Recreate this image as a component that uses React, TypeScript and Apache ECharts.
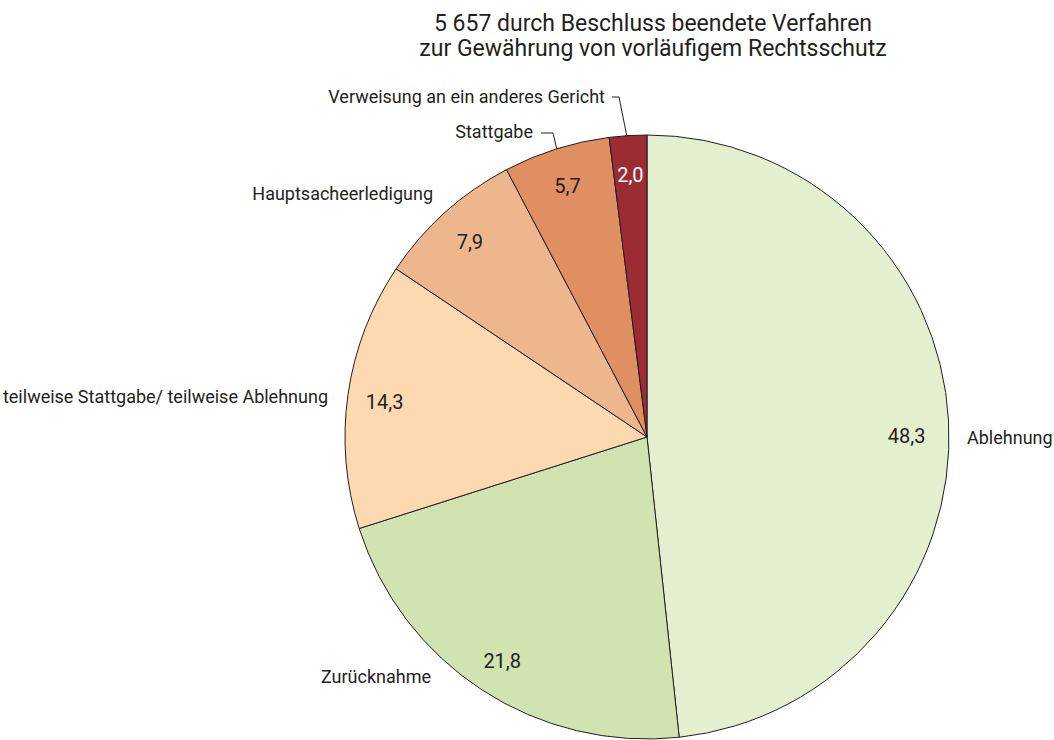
import React, { useEffect, useRef } from "react";
import * as echarts from "echarts";

const titleLines = [
  "5 657 durch Beschluss beendete Verfahren",
  "zur Gewährung von vorläufigem Rechtsschutz",
];
const categories = [
  "Ablehnung",
  "Zurücknahme",
  "teilweise Stattgabe/ teilweise Ablehnung",
  "Hauptsacheerledigung",
  "Stattgabe",
  "Verweisung an ein anderes Gericht",
];
const values = [48.3, 21.8, 14.3, 7.9, 5.7, 2.0];
const colors = ["#e4efcf", "#d0e3b0", "#fcd9b0", "#edb68c", "#e08f63", "#9c2b33"];
const valueColors = ["#231f20", "#231f20", "#231f20", "#231f20", "#231f20", "#ffffff"];

// layout of the outside name labels (pixels)
const nameLabelPos: { x: number; y: number; align: string; line?: number[][] }[] = [
  { x: 967, y: 437, align: "left" },
  { x: 431, y: 676, align: "right" },
  { x: 328, y: 396, align: "right" },
  { x: 433, y: 193, align: "right" },
  { x: 533, y: 131, align: "right", line: [[541, 133], [553, 133], [557, 150]] },
  { x: 605, y: 96, align: "right", line: [[612, 97], [619, 97], [627, 137]] },
];

const FONT = "Roboto, 'Liberation Sans', sans-serif";

export default function App() {
  const ref = useRef<HTMLDivElement>(null);
  useEffect(() => {
    document.body.style.margin = "0";
    const chart = echarts.init(ref.current!, null, { renderer: "svg" });
    const fmt = (v: number) => v.toFixed(1).replace(".", ",");
    chart.setOption({
      animation: false,
      backgroundColor: "#ffffff",
      title: {
        text: titleLines.join("\n"),
        left: 648,
        top: 6,
        textAlign: "center",
        textStyle: {
          fontFamily: FONT,
          fontSize: 23,
          fontWeight: "normal",
          color: "#231f20",
          lineHeight: 25,
        },
      },
      series: [
        {
          type: "pie",
          center: [647, 437],
          radius: 302,
          startAngle: 90,
          clockwise: true,
          avoidLabelOverlap: false,
          silent: true,
          itemStyle: { borderColor: "#231f20", borderWidth: 1 },
          label: {
            show: true,
            position: "outside",
            formatter: "{b}",
            fontFamily: FONT,
            fontSize: 18,
            color: "#231f20",
          },
          labelLine: { show: false, lineStyle: { color: "#231f20", width: 1 } },
          labelLayout: (p: any) => {
            const L = nameLabelPos[p.dataIndex];
            const r: any = { x: L.x, y: L.y, align: L.align, verticalAlign: "middle" };
            if (L.line) r.labelLinePoints = L.line;
            return r;
          },
          data: categories.map((name, i) => ({
            name,
            value: values[i],
            itemStyle: { color: colors[i] },
            labelLine: { show: !!nameLabelPos[i].line },
          })),
        },
        {
          type: "pie",
          center: [647, 437],
          radius: [222, 302],
          startAngle: 90,
          clockwise: true,
          silent: true,
          z: 3,
          itemStyle: { color: "rgba(0,0,0,0)", borderWidth: 0 },
          label: {
            show: true,
            position: "inside",
            fontFamily: FONT,
            fontSize: 20,
            formatter: (p: any) => fmt(p.value),
          },
          labelLine: { show: false },
          labelLayout: (p: any) => (p.dataIndex === 0 ? { dx: -5, dy: 13 } : { dy: 2 }),
          data: categories.map((name, i) => ({
            name,
            value: values[i],
            label: { color: valueColors[i] },
          })),
        },
      ],
    });
    return () => chart.dispose();
  }, []);
  return <div ref={ref} style={{ width: 1054, height: 740 }} />;
}
